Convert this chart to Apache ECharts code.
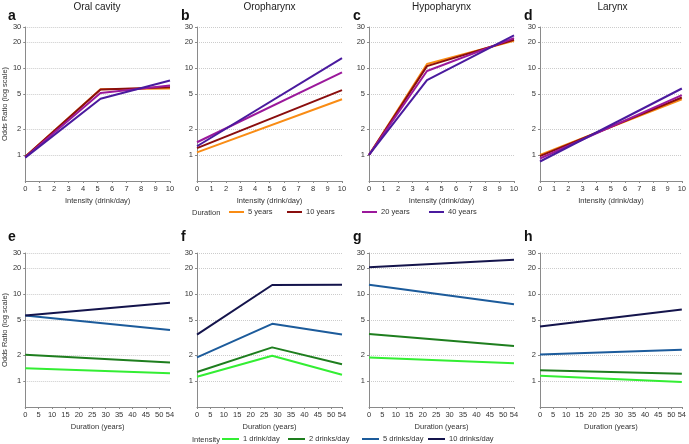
<!DOCTYPE html>
<html><head><meta charset="utf-8">
<script src="https://cdn.jsdelivr.net/npm/echarts@6/dist/echarts.min.js"></script>
<style>html,body{margin:0;padding:0;background:#fff}#c{width:689px;height:444px}</style>
</head><body><div id="c"></div>
<script>
// ---- data ----
const panelTitles = ['Oral cavity', 'Oropharynx', 'Hypopharynx', 'Larynx'];
const panelLetters = ['a', 'b', 'c', 'd', 'e', 'f', 'g', 'h'];
const durationNames = ['5 years', '10 years', '20 years', '40 years'];
const intensityNames = ['1 drink/day', '2 drinks/day', '5 drinks/day', '10 drinks/day'];
const yTicks = [1, 2, 5, 10, 20, 30];
const intensityTicks = [0, 1, 2, 3, 4, 5, 6, 7, 8, 9, 10];
const durationTicks = [0, 5, 10, 15, 20, 25, 30, 35, 40, 45, 50, 54];

// top row: OR by intensity, one line per duration
const oralX = [0, 5.2, 10];
const oral5y = [0.95, 5.75, 5.85];
const oral10y = [0.95, 5.7, 6.05];
const oral20y = [0.94, 5.2, 6.35];
const oral40y = [0.93, 4.45, 7.25];

const oroX = [0, 10];
const oro5y = [1.07, 4.4];
const oro10y = [1.2, 5.6];
const oro20y = [1.4, 9.0];
const oro40y = [1.26, 13.1];

const hypoX = [0, 4, 10];
const hypo5y = [1, 11.2, 20.8];
const hypo10y = [1, 10.6, 21.4];
const hypo20y = [1, 9.3, 22.3];
const hypo40y = [1, 7.3, 24];

const larX = [0, 10];
const lar5y = [1.0, 4.4];
const lar10y = [0.97, 4.6];
const lar20y = [0.91, 4.9];
const lar40y = [0.84, 5.85];

// bottom row: OR by duration, one line per intensity
const oralDX = [0, 54];
const oral1d = [1.40, 1.23];
const oral2d = [2.0, 1.63];
const oral5d = [5.7, 3.88];
const oral10d = [5.7, 8.0];

const oroDX = [0, 28, 54];
const oro1d = [1.12, 1.95, 1.18];
const oro2d = [1.27, 2.44, 1.56];
const oro5d = [1.87, 4.56, 3.43];
const oro10d = [3.43, 12.8, 12.9];

const hypoDX = [0, 54];
const hypo1d = [1.87, 1.60];
const hypo2d = [3.49, 2.53];
const hypo5d = [12.9, 7.7];
const hypo10d = [20.6, 25.1];

const larDX = [0, 54];
const lar1d = [1.15, 0.97];
const lar2d = [1.33, 1.21];
const lar5d = [2.02, 2.29];
const lar10d = [4.25, 6.69];

// ---- styling ----
const durColors = ['#f98c14', '#8a0e0e', '#9b189b', '#4a1a9e'];
const intColors = ['#33ee33', '#1e7e1e', '#1c5b9b', '#14144c'];
const FONT = 'Liberation Sans, Arial, sans-serif';
const lefts = [24, 197, 369, 540];
const widths = [146, 145, 145, 145];
const tops = [27, 253];
const H = 154;

const topSets = [
  [oralX, [oral5y, oral10y, oral20y, oral40y]],
  [oroX, [oro5y, oro10y, oro20y, oro40y]],
  [hypoX, [hypo5y, hypo10y, hypo20y, hypo40y]],
  [larX, [lar5y, lar10y, lar20y, lar40y]]
];
const botSets = [
  [oralDX, [oral1d, oral2d, oral5d, oral10d]],
  [oroDX, [oro1d, oro2d, oro5d, oro10d]],
  [hypoDX, [hypo1d, hypo2d, hypo5d, hypo10d]],
  [larDX, [lar1d, lar2d, lar5d, lar10d]]
];

const grid = [], xAxis = [], yAxis = [], series = [], graphic = [], legend = [];
const axisLineStyle = { color: '#8a8a8a', width: 1 };
const labelStyle = { fontSize: 7.5, color: '#333', fontFamily: FONT };

for (let r = 0; r < 2; r++) {
  for (let c = 0; c < 4; c++) {
    const gi = r * 4 + c;
    grid.push({ left: lefts[c], top: tops[r], width: widths[c], height: H, containLabel: false });
    const isTop = r === 0;
    xAxis.push({
      type: 'value', gridIndex: gi, min: 0, max: isTop ? 10 : 54,
      name: isTop ? 'Intensity (drink/day)' : 'Duration (years)',
      nameLocation: 'middle', nameGap: 16,
      nameTextStyle: { fontSize: 7.5, color: '#333', fontFamily: FONT },
      axisLine: { show: true, lineStyle: axisLineStyle },
      axisTick: { show: true, length: 2, lineStyle: axisLineStyle, customValues: isTop ? intensityTicks : durationTicks },
      axisLabel: Object.assign({ margin: 4, customValues: isTop ? intensityTicks : durationTicks }, labelStyle),
      splitLine: { show: false }
    });
    yAxis.push({
      type: 'log', logBase: 10, gridIndex: gi, min: 0.5, max: 30,
      name: c === 0 ? 'Odds Ratio (log scale)' : '',
      nameLocation: 'middle', nameGap: 13, nameRotate: 90,
      nameTextStyle: { fontSize: 7.5, color: '#333', fontFamily: FONT },
      axisLine: { show: true, lineStyle: axisLineStyle },
      axisTick: { show: true, length: 2, lineStyle: axisLineStyle, customValues: yTicks },
      axisLabel: Object.assign({ margin: 4, customValues: yTicks }, labelStyle),
      splitLine: { show: true, lineStyle: { color: '#cccccc', type: 'dotted', width: 1 } }
    });
    const set = isTop ? topSets[c] : botSets[c];
    const names = isTop ? durationNames : intensityNames;
    const cols = isTop ? durColors : intColors;
    set[1].forEach((vals, k) => {
      series.push({
        type: 'line', name: names[k], xAxisIndex: gi, yAxisIndex: gi,
        data: set[0].map((x, i) => [x, vals[i]]),
        showSymbol: false, symbol: 'none', silent: true,
        lineStyle: { color: cols[k], width: 2 }, itemStyle: { color: cols[k] },
        animation: false
      });
    });
    graphic.push({
      type: 'text', x: lefts[c] - 16, y: (isTop ? 16 : 237),
      style: { text: panelLetters[gi], fontSize: 14, fontWeight: 'bold', fill: '#111', fontFamily: FONT, textVerticalAlign: 'middle' }
    });
  }
}
panelTitles.forEach((t, c) => {
  graphic.push({
    type: 'text', x: lefts[c] + widths[c] / 2, y: 7,
    style: { text: t, fontSize: 10, fill: '#222', fontFamily: FONT, textAlign: 'center', textVerticalAlign: 'middle' }
  });
});
graphic.push({ type: 'text', x: 192, y: 213, style: { text: 'Duration', fontSize: 7.5, fill: '#333', fontFamily: FONT, textVerticalAlign: 'middle' } });
graphic.push({ type: 'text', x: 192, y: 440, style: { text: 'Intensity', fontSize: 7.5, fill: '#333', fontFamily: FONT, textVerticalAlign: 'middle' } });

const durLegendX = [229, 287, 362, 429];
const intLegendX = [222, 288, 362, 428];
durationNames.forEach((n, k) => legend.push({
  data: [n], left: durLegendX[k], top: 208, padding: 0, icon: 'rect', itemWidth: 15, itemHeight: 2, itemGap: 4,
  textStyle: { fontSize: 7.5, color: '#333', fontFamily: FONT, padding: [0, 0, 0, -1] }
}));
intensityNames.forEach((n, k) => legend.push({
  data: [n], left: intLegendX[k], top: 435, padding: 0, icon: 'rect', itemWidth: 17, itemHeight: 2, itemGap: 4,
  textStyle: { fontSize: 7.5, color: '#333', fontFamily: FONT, padding: [0, 0, 0, -1] }
}));

const chart = echarts.init(document.getElementById('c'), null, { renderer: 'canvas' });
chart.setOption({
  animation: false,
  backgroundColor: '#fff',
  textStyle: { fontFamily: FONT },
  grid, xAxis, yAxis, series, graphic, legend
});
</script></body></html>
